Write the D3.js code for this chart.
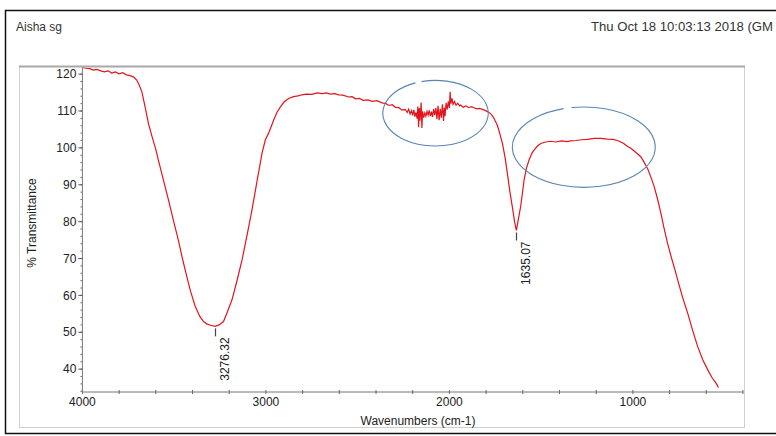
<!DOCTYPE html>
<html>
<head>
<meta charset="utf-8">
<script src="https://cdn.jsdelivr.net/npm/d3@7"></script>
<style>
  body { margin: 0; background: #fff; }
  svg { display: block; font-family: "Liberation Sans", Arial, sans-serif; }
</style>
</head>
<body>
<svg width="776" height="436"></svg>
<script>
// Spectrum (wavenumber cm-1, % transmittance)
const wavenumbers = [
  4000, 3980, 3960, 3940, 3920, 3900, 3880, 3860, 3840, 3820, 3800, 3780, 3760, 3740, 3720,
  3704, 3690, 3676, 3660, 3640, 3620, 3600, 3586, 3560, 3531, 3500, 3477, 3455, 3431, 3410,
  3385, 3360, 3340, 3320, 3300, 3276, 3255, 3231, 3210, 3185, 3160, 3130, 3100, 3076, 3050,
  3021, 3003, 2985, 2958, 2940, 2921, 2900, 2876, 2850, 2825, 2803, 2780, 2750, 2720, 2694,
  2670, 2650, 2625, 2603, 2580, 2550, 2530, 2512, 2490, 2470, 2445, 2421, 2395, 2366, 2345,
  2330, 2312, 2294, 2276, 2260, 2240, 2230, 2222, 2214, 2206, 2200, 2194, 2188, 2182, 2176,
  2172, 2168, 2164, 2160, 2154, 2150, 2146, 2140, 2134, 2128, 2122, 2116, 2110, 2104, 2098,
  2092, 2086, 2080, 2074, 2068, 2062, 2056, 2050, 2044, 2038, 2032, 2028, 2024, 2018, 2012,
  2006, 2000, 1996, 1992, 1986, 1980, 1972, 1964, 1955, 1945, 1939, 1925, 1910, 1895, 1880,
  1866, 1850, 1835, 1812, 1795, 1775, 1760, 1750, 1739, 1725, 1711, 1697, 1684, 1670, 1657,
  1645, 1635, 1625, 1612, 1600, 1593, 1580, 1566, 1550, 1539, 1520, 1502, 1475, 1448, 1420,
  1390, 1360, 1339, 1310, 1280, 1247, 1210, 1175, 1140, 1110, 1084, 1066, 1050, 1029, 1011,
  990, 957, 940, 920, 900, 884, 865, 847, 830, 811, 790, 770, 756, 730, 701,
  675, 647, 620, 592, 570, 547, 540, 534
];
const transmittance = [
  121.8, 121.6, 121.5, 121.1, 121.3, 120.9, 120.6, 120.9, 120.3, 120.6, 120.1, 120.4, 119.8, 119.6, 119.2,
  118.4, 117.0, 115.2, 111.5, 106.6, 103.0, 99.6, 96.7, 91.6, 85.9, 79.5, 75.0, 70.0, 65.1, 61.0,
  57.0, 54.3, 52.9, 52.2, 51.9, 51.6, 52.0, 52.9, 55.5, 58.8, 63.5, 69.6, 77.0, 83.1, 90.5,
  98.6, 102.2, 104.0, 107.5, 109.6, 111.1, 112.5, 113.4, 113.9, 114.1, 114.4, 114.6, 114.5, 114.9, 114.7,
  114.9, 114.6, 114.7, 114.4, 114.3, 113.8, 113.9, 113.3, 113.4, 112.9, 113.0, 112.6, 112.8, 112.2, 112.0,
  111.5, 111.7, 111.0, 110.9, 110.3, 110.4, 109.6, 110.5, 109.2, 110.1, 108.8, 110.3, 108.5, 109.6, 107.9,
  111.2, 105.6, 110.8, 107.4, 112.3, 105.4, 109.9, 108.2, 109.5, 108.6, 109.9, 108.9, 110.2, 108.7, 109.8,
  108.4, 110.5, 108.9, 110.8, 107.8, 111.4, 107.5, 110.6, 108.2, 111.8, 107.3, 110.9, 108.6, 112.2, 110.4,
  112.6, 110.8, 115.2, 112.0, 113.4, 111.8, 112.6, 111.6, 112.1, 111.4, 111.6, 111.0, 111.4, 110.9, 111.2,
  110.9, 110.6, 110.7, 110.3, 109.9, 109.3, 108.3, 107.3, 106.2, 103.8, 101.2, 97.5, 93.1, 88.0, 84.0,
  80.0, 77.6, 80.5, 84.0, 88.5, 91.3, 94.5, 96.7, 98.6, 99.4, 100.5, 101.2, 101.6, 101.8, 101.6,
  101.9, 101.7, 101.9, 102.0, 102.2, 102.3, 102.6, 102.6, 102.4, 102.3, 102.0, 101.6, 101.2, 100.4, 99.9,
  99.0, 97.6, 96.2, 94.4, 91.8, 89.5, 86.0, 82.2, 78.2, 74.1, 70.2, 66.8, 64.2, 59.6, 55.1,
  50.6, 46.1, 42.6, 39.8, 37.8, 36.2, 35.6, 35.0
];

const xTicks = [4000, 3000, 2000, 1000];
const yTicks = [40, 50, 60, 70, 80, 90, 100, 110, 120];
const peakPositions = [3276.32, 1635.07];
const peakValues = [51.6, 77.6];
const peakLabels = ["3276.32", "1635.07"];
// circled regions in data units: [wn left, wn right, centre %T, half height %T, gap wn start, gap wn end]
const circles = [
  [2363, 1788, 109.4, 8.9, 2185, 2152],
  [1657, 878, 100.2, 10.9, 1378, 1335]
];

const svg = d3.select("svg");

// page frame and header
svg.append("rect")
    .attr("x", 5.5).attr("y", 10.5)
    .attr("width", 800).attr("height", 423)
    .attr("fill", "none").attr("stroke", "#111").attr("stroke-width", 1.5);

svg.append("text")
    .attr("x", 16).attr("y", 31)
    .attr("font-size", 12).attr("fill", "#333")
    .text("Aisha sg");

svg.append("text")
    .attr("x", 591).attr("y", 31)
    .attr("font-size", 12).attr("fill", "#333")
    .attr("textLength", 182).attr("lengthAdjust", "spacingAndGlyphs")
    .text("Thu Oct 18 10:03:13 2018 (GM");

// plot frame
svg.append("rect")
    .attr("x", 19.5).attr("y", 66.5)
    .attr("width", 725).attr("height", 361)
    .attr("fill", "none").attr("stroke", "#d0d0d0");
svg.append("line")
    .attr("x1", 19).attr("x2", 745).attr("y1", 66.5).attr("y2", 66.5)
    .attr("stroke", "#a8a8a8").attr("stroke-width", 2);

const x = d3.scaleLinear().domain([4000, 400]).range([82.4, 743]);
const y = d3.scaleLinear().domain([33.8, 121.8]).range([392, 67.5]);

// x axis
const xAxis = svg.append("g").attr("transform", "translate(0,392)");
xAxis.append("line")
    .attr("x1", x(4000)).attr("x2", x(400))
    .attr("stroke", "#777");
xAxis.selectAll(".minor")
  .data(d3.range(4000, 399, -200))
  .join("line")
    .attr("x1", d => x(d)).attr("x2", d => x(d))
    .attr("y1", -2).attr("y2", 2)
    .attr("stroke", "#666");
xAxis.selectAll("text")
  .data(xTicks)
  .join("text")
    .attr("x", d => x(d)).attr("y", 14)
    .attr("text-anchor", "middle")
    .attr("font-size", 12).attr("fill", "#222")
    .text(d => d);

svg.append("text")
    .attr("x", 418).attr("y", 425)
    .attr("text-anchor", "middle")
    .attr("font-size", 12).attr("fill", "#222")
    .text("Wavenumbers (cm-1)");

// y axis
const yAxis = svg.append("g").attr("transform", "translate(82.4,0)");
yAxis.append("line")
    .attr("y1", y(121.8)).attr("y2", 392)
    .attr("stroke", "#777");
yAxis.selectAll(".minor")
  .data(d3.range(34, 122, 2))
  .join("line")
    .attr("y1", d => y(d)).attr("y2", d => y(d))
    .attr("x1", -2).attr("x2", 0)
    .attr("stroke", "#777");
yAxis.selectAll(".major")
  .data(yTicks)
  .join("line")
    .attr("y1", d => y(d)).attr("y2", d => y(d))
    .attr("x1", -4).attr("x2", 0)
    .attr("stroke", "#555");
yAxis.selectAll("text")
  .data(yTicks)
  .join("text")
    .attr("x", -6).attr("y", d => y(d))
    .attr("dy", "0.35em")
    .attr("text-anchor", "end")
    .attr("font-size", 12).attr("fill", "#222")
    .text(d => d);

svg.append("text")
    .attr("transform", "translate(36,223) rotate(-90)")
    .attr("text-anchor", "middle")
    .attr("font-size", 12).attr("fill", "#222")
    .text("% Transmittance");

// spectrum
svg.append("clipPath").attr("id", "plot")
  .append("rect")
    .attr("x", x(4000)).attr("y", y(121.8))
    .attr("width", x(400) - x(4000)).attr("height", 392 - y(121.8));

const pts = wavenumbers.map((w, i) => [w, transmittance[i]]);
svg.append("path")
    .datum(pts)
    .attr("clip-path", "url(#plot)")
    .attr("fill", "none")
    .attr("stroke", "#e3141b")
    .attr("stroke-width", 1.2)
    .attr("d", d3.line().x(d => x(d[0])).y(d => y(d[1])));

// peak markers
const peaks = svg.append("g");
peakPositions.forEach((p, i) => {
  const px = Math.round(x(p)) + 0.5;
  const py = y(peakValues[i]);
  peaks.append("line")
      .attr("x1", px).attr("x2", px)
      .attr("y1", py + 2).attr("y2", py + 10)
      .attr("stroke", "#444").attr("stroke-width", 1.2);
  peaks.append("text")
      .attr("transform", `translate(${px + 13},${py + 11}) rotate(-90)`)
      .attr("text-anchor", "end")
      .attr("font-size", 12).attr("fill", "#222")
      .text(peakLabels[i]);
});

// hand-drawn circles around regions
circles.forEach(c => {
  const cx = (x(c[0]) + x(c[1])) / 2;
  const rx = (x(c[1]) - x(c[0])) / 2;
  const cy = y(c[2]);
  const ry = y(c[2] - c[3]) - cy;
  const gx1 = x(c[4]), gx2 = x(c[5]);
  const gy1 = cy - ry * Math.sqrt(1 - ((gx1 - cx) / rx) ** 2);
  const gy2 = cy - ry * Math.sqrt(1 - ((gx2 - cx) / rx) ** 2);
  svg.append("path")
      .attr("fill", "none")
      .attr("stroke", "#5b84b1")
      .attr("stroke-width", 1.1)
      .attr("d", `M${gx1},${gy1} A${rx},${ry} 0 1 0 ${gx2},${gy2}`);
});
</script>
</body>
</html>
